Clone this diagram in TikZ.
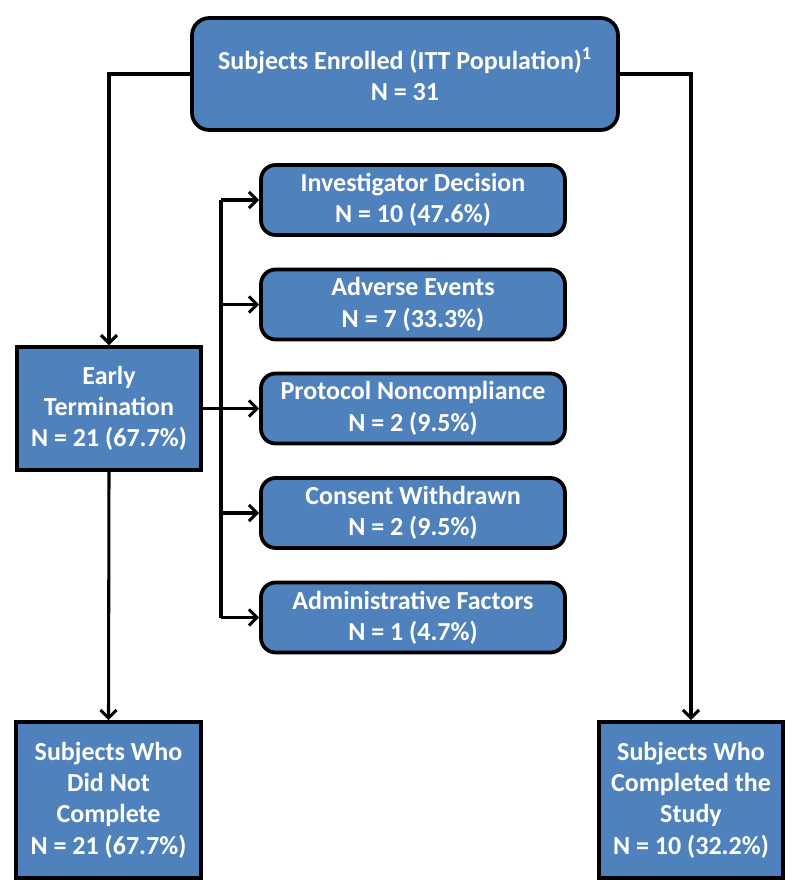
\documentclass[tikz,border=0pt]{standalone}
\usepackage{fontspec}
\setmainfont{Carlito}
\usetikzlibrary{arrows.meta}
\definecolor{boxblue}{HTML}{4F81BD}
\begin{document}
\begin{tikzpicture}[x=0.75pt,y=-0.75pt,
  box/.style={draw=black, line width=2.8pt, fill=boxblue, text=white,
    font=\bfseries\fontsize{19.5}{23.5}\selectfont, align=center, inner sep=0pt},
  rbox/.style={box, rounded corners=11pt, minimum width=228pt, minimum height=52.5pt},
  conn/.style={line width=2.3pt},
  arr/.style={conn, -{Straight Barb[length=6pt,width=12pt,line width=2.3pt]}}]
\useasboundingbox (0,0) rectangle (800,888);
\node[box, rounded corners=13pt, minimum width=319.5pt, minimum height=84pt] (top) at (405,74)
  {Subjects Enrolled (ITT Population)\textsuperscript{1}\\N = 31};
\node[box, minimum width=138pt, minimum height=92pt] (early) at (109,408.5)
  {Early\\Termination\\N = 21 (67.7\%)};
\node[rbox] (s1) at (413,200) {Investigator Decision\\N = 10 (47.6\%)};
\node[rbox] (s2) at (413,304.5) {Adverse Events\\N = 7 (33.3\%)};
\node[rbox] (s3) at (413,408.5) {Protocol Noncompliance\\N = 2 (9.5\%)};
\node[rbox] (s4) at (413,513) {Consent Withdrawn\\N = 2 (9.5\%)};
\node[rbox] (s5) at (413,617.5) {Administrative Factors\\N = 1 (4.7\%)};
\node[box, minimum width=139pt, minimum height=117pt] (notdone) at (108.5,800)
  {Subjects Who\\Did Not\\Complete\\N = 21 (67.7\%)};
\node[box, minimum width=138pt, minimum height=117pt] (done) at (691,800)
  {Subjects Who\\Completed the\\Study\\N = 10 (32.2\%)};
\coordinate (bus) at (221,0);
\draw[arr] (top.west) -| (early.north);
\draw[arr] (top.east) -| (done.north);
\draw[arr] (early.south) -- (notdone.north);
\draw[conn] (bus |- s1.west) -- (bus |- s5.west);
\draw[arr] (bus |- s1.west) -- (s1.west);
\draw[arr] (bus |- s2.west) -- (s2.west);
\draw[arr] (early.east) -- (s3.west);
\draw[arr] (bus |- s4.west) -- (s4.west);
\draw[arr] (bus |- s5.west) -- (s5.west);
\end{tikzpicture}
\end{document}
